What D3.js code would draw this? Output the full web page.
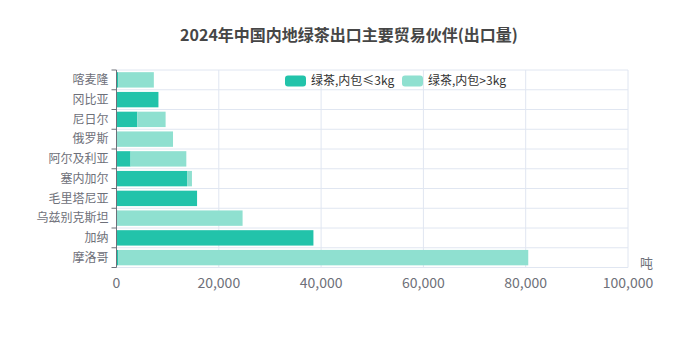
<!DOCTYPE html>
<html><head><meta charset="utf-8">
<script src="https://cdn.jsdelivr.net/npm/d3@7"></script>
<style>body{margin:0;background:#fff;font-family:"Noto Sans CJK SC","Noto Sans",sans-serif;}</style>
</head><body><svg id="c" width="698" height="349"></svg>
<script>
const categories = ["喀麦隆","冈比亚","尼日尔","俄罗斯","阿尔及利亚","塞内加尔","毛里塔尼亚","乌兹别克斯坦","加纳","摩洛哥"];
const seriesNames = ["绿茶,内包≤3kg","绿茶,内包>3kg"];
const small = [300, 8200, 4050, 100, 2750, 13800, 15750, 200, 38500, 300];
const large = [7000, 0, 5550, 10950, 10900, 950, 0, 24450, 0, 80200];
const xTicks = [0, 20000, 40000, 60000, 80000, 100000];
const title = "2024年中国内地绿茶出口主要贸易伙伴(出口量)";
const unit = "吨";
const colors = ["#22c3aa", "#8fe0d0"];

const svg = d3.select("#c");
const m = {l:116.5, r:628, t:70, b:267.5};
const x = d3.scaleLinear().domain([0,100000]).range([m.l, m.r]);
const y = d3.scaleBand().domain(categories).range([m.t, m.b]).paddingInner(0.22).paddingOuter(0.11);
const band = d3.scaleBand().domain(categories).range([m.t, m.b]);

svg.append("text").attr("x",349).attr("y",41).attr("text-anchor","middle")
  .attr("font-size",16).attr("font-weight","bold").attr("fill","#464646").text(title);

// grid
const g = svg.append("g");
g.selectAll(".vg").data(xTicks).enter().append("line")
  .attr("x1",d=>x(d)).attr("x2",d=>x(d)).attr("y1",m.t).attr("y2",m.b)
  .attr("stroke","#e0e6f1").attr("stroke-width",1);
const bounds = categories.map(c=>band(c)).concat([m.b]);
g.selectAll(".hg").data(bounds).enter().append("line")
  .attr("x1",m.l).attr("x2",m.r).attr("y1",d=>d).attr("y2",d=>d)
  .attr("stroke","#e0e6f1").attr("stroke-width",1);

// bars
const stacked = categories.map((c,i)=>({c, a:small[i], b:large[i]}));
svg.append("g").selectAll("rect").data(stacked).enter().append("rect")
  .attr("x",d=>x(0)).attr("y",d=>y(d.c)).attr("height",y.bandwidth())
  .attr("width",d=>x(d.a)-x(0)).attr("fill",colors[0]);
svg.append("g").selectAll("rect").data(stacked).enter().append("rect")
  .attr("x",d=>x(d.a)).attr("y",d=>y(d.c)).attr("height",y.bandwidth())
  .attr("width",d=>x(d.a+d.b)-x(d.a)).attr("fill",colors[1]);

// y axis
const ya = svg.append("g");
ya.append("line").attr("x1",m.l).attr("x2",m.l).attr("y1",m.t).attr("y2",m.b).attr("stroke","#6e7079");
ya.selectAll(".tk").data(bounds).enter().append("line")
  .attr("x1",m.l-5).attr("x2",m.l).attr("y1",d=>d).attr("y2",d=>d).attr("stroke","#6e7079");
ya.selectAll("text").data(categories).enter().append("text")
  .attr("x",m.l-8).attr("y",d=>band(d)+band.bandwidth()/2).attr("dy","0.35em")
  .attr("text-anchor","end").attr("font-size",12).attr("fill","#6e7079").text(d=>d);

// x axis labels
const fmt = d3.format(",");
svg.append("g").selectAll("text").data(xTicks).enter().append("text")
  .attr("x",d=>x(d)).attr("y",m.b+20).attr("text-anchor","middle")
  .attr("font-size",14).attr("fill","#6e7079").text(d=>fmt(d));
svg.append("text").attr("x",640).attr("y",m.b+0.5).attr("font-size",13).attr("fill","#6e7079").text(unit);

// legend
const lg = svg.append("g");
const lx = [285, 402];
seriesNames.forEach((s,i)=>{
  lg.append("rect").attr("x",lx[i]).attr("y",75.5).attr("width",21).attr("height",11).attr("rx",3).attr("fill",colors[i]);
  lg.append("text").attr("x",lx[i]+26).attr("y",81).attr("dy","0.35em").attr("font-size",12).attr("fill","#333").text(s);
});
</script></body></html>
